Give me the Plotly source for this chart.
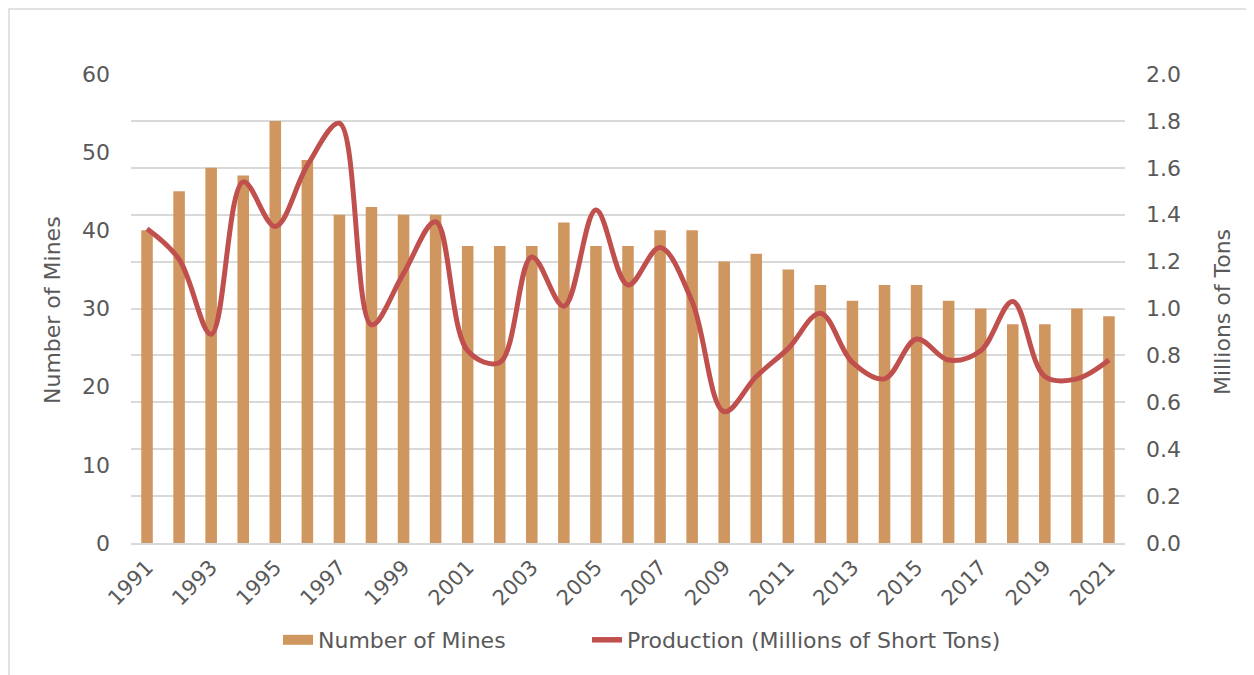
import plotly.graph_objects as go

years = [str(y) for y in range(1991, 2022)]
mines = [40, 45, 48, 47, 54, 49, 42, 43, 42, 42, 38, 38, 38, 41, 38, 38, 40, 40,
         36, 37, 35, 33, 31, 33, 33, 31, 30, 28, 28, 30, 29]
production = [1.34, 1.21, 0.89, 1.54, 1.35, 1.61, 1.79, 0.93, 1.15, 1.37, 0.82, 0.77,
              1.22, 1.01, 1.42, 1.10, 1.26, 1.03, 0.56, 0.71, 0.83, 0.98, 0.77, 0.70,
              0.87, 0.78, 0.82, 1.03, 0.71, 0.70, 0.78]
label_years = [str(y) for y in range(1991, 2022, 2)]
left_ticks = [0, 10, 20, 30, 40, 50, 60]
right_ticks = [round(0.2 * i, 1) for i in range(11)]

FONT = "DejaVu Sans"
GREY = "#595959"
GRID = "#d9d9d9"
BAR_COLOR = "#D09660"
LINE_COLOR = "#C0504D"

fig = go.Figure()
fig.add_trace(go.Bar(
    x=years, y=mines, name="Number of Mines",
    marker=dict(color=BAR_COLOR, line=dict(width=0)),
    width=0.36, yaxis="y", showlegend=False,
))
fig.add_trace(go.Scatter(
    x=years, y=production, name="Production (Millions of Short Tons)",
    mode="lines", line=dict(color=LINE_COLOR, width=5, shape="spline", smoothing=1.0),
    yaxis="y2", showlegend=False,
))
# legend-only entries (wide swatches like the original)
fig.add_trace(go.Scatter(
    x=[None], y=[None], name="Number of Mines", mode="lines",
    line=dict(color=BAR_COLOR, width=12.5), yaxis="y", legend="legend",
))
fig.add_trace(go.Scatter(
    x=[None], y=[None], name="Production (Millions of Short Tons)", mode="lines",
    line=dict(color=LINE_COLOR, width=5.5), yaxis="y2", legend="legend2",
))

# page is offset by the body margin (8px)
OFF = 8
W, H = 1254 - OFF, 675 - OFF
PL, PR, PT, PB = 131, 1125, 74, 543   # plot area in page pixels
L = PL - OFF
T = PT - OFF
pw, ph = PR - PL, PB - PT
R = W - L - pw
B = H - T - ph

def px(x):
    return (x - PL) / pw

def py(y):
    return (PB - y) / ph

legend_common = dict(
    orientation="h", xanchor="left", y=py(640), yanchor="middle",
    font=dict(size=22, color=GREY), bgcolor="rgba(0,0,0,0)",
)

fig.update_layout(
    width=W, height=H,
    margin=dict(l=L, r=R, t=T, b=B, autoexpand=False),
    paper_bgcolor="white", plot_bgcolor="white",
    font=dict(family=FONT, color=GREY, size=22),
    xaxis=dict(
        type="category", range=[-0.5, 30.5],
        tickmode="array", tickvals=label_years, ticktext=label_years,
        tickangle=-45, tickfont=dict(size=21, color=GREY),
        showline=True, linecolor=GRID, linewidth=1.5,
        showgrid=False, ticks="", ticklabelstandoff=2,
    ),
    yaxis=dict(
        range=[0, 60], tickmode="array", tickvals=left_ticks,
        showgrid=False, zeroline=False, showline=False, ticks="",
        tickfont=dict(size=22, color=GREY), ticklabelstandoff=20,
    ),
    yaxis2=dict(
        range=[0, 2.0], tickmode="array", tickvals=right_ticks,
        tickformat=".1f", overlaying="y", side="right",
        showgrid=True, gridcolor=GRID, gridwidth=1.5,
        zeroline=False, showline=False, ticks="",
        tickfont=dict(size=22, color=GREY), ticklabelstandoff=20,
    ),
    legend=dict(x=px(278), **legend_common),
    legend2=dict(x=px(587), **legend_common),
    annotations=[
        dict(text="Number of Mines", xref="paper", yref="paper",
             x=px(52), y=py(310), textangle=-90, showarrow=False,
             font=dict(size=22, color=GREY), xanchor="center", yanchor="middle"),
        dict(text="Millions of Tons", xref="paper", yref="paper",
             x=px(1222), y=py(312), textangle=-90, showarrow=False,
             font=dict(size=22, color=GREY), xanchor="center", yanchor="middle"),
    ],
    shapes=[
        dict(type="rect", xref="paper", yref="paper",
             x0=px(OFF + 1), x1=px(1251), y0=py(690), y1=py(OFF + 1),
             line=dict(color=GRID, width=1.5), fillcolor="rgba(0,0,0,0)", layer="below"),
    ],
)

fig.write_html("out.html")
